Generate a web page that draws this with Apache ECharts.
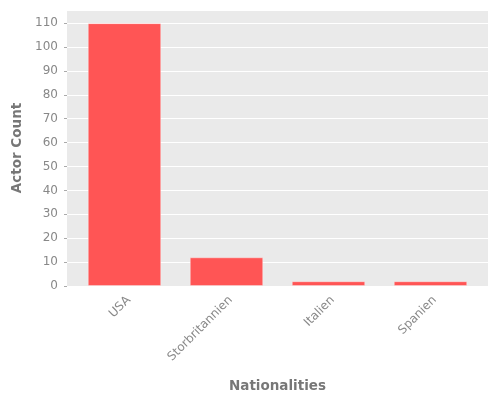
<!DOCTYPE html>
<html>
<head>
<meta charset="utf-8">
<script src="https://cdn.jsdelivr.net/npm/echarts@6/dist/echarts.min.js"></script>
<style>
html, body { margin: 0; padding: 0; background: #fff; }
#chart { width: 500px; height: 400px; }
</style>
</head>
<body>
<div id="chart"></div>
<script>
// nationalities of the actors
var categories = ['USA', 'Storbritannien', 'Italien', 'Spanien'];
var counts = [110, 12, 2, 2];
var yTicks = [0, 10, 20, 30, 40, 50, 60, 70, 80, 90, 100, 110];

var yMax = 115.5;
var labelColor = '#888';
var titleColor = '#777';
var font = 'DejaVu Sans';

var myChart = echarts.init(document.getElementById('chart'));
var option = {
	animation: false,
	grid: [
		// gray panel with the y grid lines
		{ left: 67, right: 12, top: 10, bottom: 114, show: true, backgroundColor: '#EAEAEA', borderWidth: 0 },
		// bars, narrower so the category centres match the picture
		{ left: 73.5, width: 408, top: 10, bottom: 114 }
	],
	xAxis: [
		{ gridIndex: 0, type: 'value', show: false },
		{
			gridIndex: 1,
			type: 'category',
			data: categories,
			name: 'Nationalities',
			nameLocation: 'middle',
			nameGap: 90,
			nameTextStyle: { color: titleColor, fontSize: 13.5, fontWeight: 'bold', fontFamily: font },
			offset: 3,
			axisLine: { show: false },
			axisTick: { alignWithLabel: true, length: 3, lineStyle: { color: '#aaa' } },
			axisLabel: { rotate: 45, color: labelColor, fontSize: 12, fontFamily: font, margin: 5, verticalAlign: 'top' }
		}
	],
	yAxis: [
		{
			gridIndex: 0,
			type: 'value',
			min: 0,
			max: yMax,
			interval: 10,
			name: 'Actor Count',
			nameLocation: 'middle',
			nameGap: 28,
			nameTextStyle: { color: titleColor, fontSize: 13.5, fontWeight: 'bold', fontFamily: font },
			offset: 3,
			axisLine: { show: false },
			axisTick: { show: true, length: 3, lineStyle: { color: '#aaa' } },
			axisLabel: {
				color: labelColor,
				fontSize: 12,
				fontFamily: font,
				margin: 6,
				showMaxLabel: false,
				formatter: function (v) { return yTicks.indexOf(v) >= 0 ? v : ''; }
			},
			splitLine: { lineStyle: { color: '#fff', width: 1 } }
		},
		{ gridIndex: 1, type: 'value', min: 0, max: yMax, show: false, splitLine: { show: false } }
	],
	series: [{
		type: 'bar',
		xAxisIndex: 1,
		yAxisIndex: 1,
		data: counts,
		barWidth: '72%',
		itemStyle: { color: '#FF5555', borderColor: 'rgba(255,255,255,0.35)', borderWidth: 1 }
	}]
};
myChart.setOption(option);
</script>
</body>
</html>
